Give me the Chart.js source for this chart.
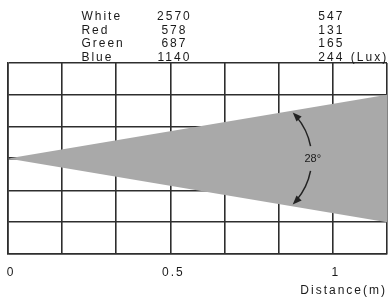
<!DOCTYPE html>
<html><head><meta charset="utf-8">
<script src="https://cdn.jsdelivr.net/npm/chart.js@4/dist/chart.umd.min.js"></script>
<style>html,body{margin:0;padding:0;background:#fff}#wrap{width:390px;height:297px}</style>
</head><body><div id="wrap"><canvas id="c"></canvas></div>
<script>
// ---- data ----
const colorNames = ['White', 'Red', 'Green', 'Blue'];
const luxAt05m = [2570, 578, 687, 1140];
const luxAt1m = [547, 131, 165, 244];
const luxUnit = '(Lux)';
const beamAngleLabel = '28°';
const distanceTickValues = [0, 0.5, 1];
const distanceTickLabels = ['0', '0.5', '1'];
const gridDistances = [0, 1/6, 2/6, 3/6, 4/6, 5/6, 1, 7/6];
const beamDistance = [0, 7/6];
const beamUpper = [0, 2];
const beamLower = [0, -2];
const axisTitle = 'Distance(m)';

const FONT = "'Liberation Sans', Arial, sans-serif";
const INK = '#1a1a1a';
const GRID = '#2e2e2e';

const spacingPlugin = {
  id: 'spacing',
  beforeDraw(chart) { chart.ctx.letterSpacing = '2px'; }
};

const annotPlugin = {
  id: 'annot',
  afterDraw(chart) {
    const ctx = chart.ctx, xs = chart.scales.x, ys = chart.scales.y;
    ctx.save();
    ctx.letterSpacing = '2px';
    ctx.fillStyle = INK;
    ctx.font = '12px ' + FONT;
    ctx.textBaseline = 'alphabetic';
    const x05 = xs.getPixelForValue(0.5), x1 = xs.getPixelForValue(1);
    const rowBase = [19.7, 33.7, 47.4, 61];
    colorNames.forEach((n, i) => {
      ctx.textAlign = 'left';
      ctx.fillText(n, x05 - 89, rowBase[i]);
      ctx.textAlign = 'center';
      ctx.fillText(String(luxAt05m[i]), x05 + 4, rowBase[i]);
      ctx.fillText(String(luxAt1m[i]), x1 - 1.5, rowBase[i]);
    });
    ctx.textAlign = 'left';
    ctx.fillText(luxUnit, x1 + 18, rowBase[3]);

    // angle arc annotation
    const cx = xs.getPixelForValue(0.735), cy = ys.getPixelForValue(0);
    const r = xs.getPixelForValue(0.935) - cx;
    const a0 = 45 * Math.PI / 180, gap = 11 * Math.PI / 180;
    ctx.strokeStyle = '#222';
    ctx.lineWidth = 1.5;
    ctx.beginPath(); ctx.arc(cx, cy, r, -a0 + 0.08, -gap); ctx.stroke();
    ctx.beginPath(); ctx.arc(cx, cy, r, gap, a0 - 0.08); ctx.stroke();
    function head(angle, sgn) {
      const px = cx + r * Math.cos(angle), py = cy + r * Math.sin(angle);
      const tx = -Math.sin(angle) * sgn, ty = Math.cos(angle) * sgn;
      const L = 9, W = 3.6;
      const bx = px - tx * L, by = py - ty * L;
      ctx.beginPath();
      ctx.moveTo(px, py);
      ctx.lineTo(bx + ty * W, by - tx * W);
      ctx.lineTo(bx - ty * W, by + tx * W);
      ctx.closePath();
      ctx.fillStyle = '#222';
      ctx.fill();
    }
    head(-a0, -1);
    head(a0, 1);
    ctx.letterSpacing = '0px';
    ctx.font = '11px ' + FONT;
    ctx.fillStyle = INK;
    ctx.textAlign = 'center';
    ctx.textBaseline = 'middle';
    ctx.fillText(beamAngleLabel, cx + r + 1, cy + 0.5);
    ctx.restore();
  }
};

const data = {
  datasets: [
    { data: beamDistance.map((x, i) => ({ x, y: beamUpper[i] })), borderWidth: 0, pointRadius: 0,
      backgroundColor: '#a9a9a9', fill: '+1' },
    { data: beamDistance.map((x, i) => ({ x, y: beamLower[i] })), borderWidth: 0, pointRadius: 0,
      backgroundColor: '#a9a9a9', fill: false }
  ]
};

new Chart(document.getElementById('c'), {
  type: 'line',
  data,
  plugins: [spacingPlugin, annotPlugin],
  options: {
    responsive: true, maintainAspectRatio: false, animation: false,
    layout: { padding: { left: 8, right: 3, top: 63, bottom: 0 } },
    plugins: { legend: { display: false }, tooltip: { enabled: false } },
    scales: {
      x: {
        type: 'linear', min: 0, max: 7/6, z: 1,
        afterBuildTicks(s) { s.ticks = gridDistances.map(v => ({ value: v })); },
        afterFit(s) { s.paddingLeft = 0; s.paddingRight = 0; s.height = 43; },
        ticks: {
          autoSkip: false, maxRotation: 0, padding: 11, color: INK, labelOffset: 3,
          font: { family: FONT, size: 12, lineHeight: 1.2 },
          callback(v) {
            const i = distanceTickValues.findIndex(t => Math.abs(t - v) < 1e-6);
            return i >= 0 ? distanceTickLabels[i] : '';
          }
        },
        grid: { color: GRID, lineWidth: 1.6, drawTicks: false },
        border: { display: true, color: GRID, width: 1.6 },
        title: { display: true, text: axisTitle, align: 'end', color: INK,
          font: { family: FONT, size: 12, lineHeight: 1.0 }, padding: { top: 0, bottom: 0 } }
      },
      y: {
        type: 'linear', min: -3, max: 3, z: 1,
        afterFit(s) { s.width = 0; s.paddingTop = 0; s.paddingBottom = 0; },
        ticks: { display: false, stepSize: 1 },
        grid: { color: GRID, lineWidth: c => (c.tick && c.tick.value === 0 ? 2.6 : 1.6), drawTicks: false },
        border: { display: true, color: GRID, width: 1.6 }
      }
    }
  }
});
</script></body></html>
